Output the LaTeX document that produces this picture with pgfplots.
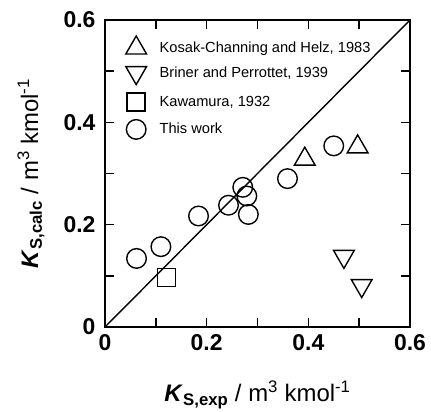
\documentclass[border=0pt]{standalone}
\usepackage{pgfplots}
\pgfplotsset{compat=1.18}
\usepackage{fontspec}
\setmainfont{Liberation Sans}
\pgfplotsset{myleg/.style={legend image code/.code={\path (0cm,0cm) (1.15cm,0cm); \draw[##1] plot coordinates {(0.4cm,0cm)};}}}
\begin{document}
\begin{tikzpicture}
\begin{axis}[
  scale only axis,
  width=305bp, height=307bp,
  xmin=0, xmax=0.6, ymin=0, ymax=0.6,
  axis line style={line width=1.6pt},
  xtick={0,0.2,0.4,0.6}, ytick={0,0.2,0.4,0.6},
  xticklabels={0,0.2,0.4,0.6}, yticklabels={0,0.2,0.4,0.6},
  minor xtick={0.1,0.3,0.5}, minor ytick={0.1,0.3,0.5},
  tick align=inside,
  major tick length=9bp, minor tick length=9bp,
  every tick/.style={line width=1.6pt, black},
  ticklabel style={font=\fontsize{23}{25}\selectfont\bfseries},
  xticklabel style={yshift=-4bp},
  yticklabel style={xshift=-6bp},
  xlabel={\textbf{\textit{K}}\textsubscript{\textbf{S,exp}} / m\textsuperscript{3} kmol\textsuperscript{-1}},
  ylabel={\textbf{\textit{K}}\textsubscript{\textbf{S,calc}} / m\textsuperscript{3} kmol\textsuperscript{-1}},
  every axis x label/.style={at={(axis description cs:0.5,-0.22)}, anchor=center, font=\fontsize{24}{26}\selectfont},
  every axis y label/.style={at={(axis description cs:-0.243,0.5)}, anchor=center, rotate=90, font=\fontsize{24}{26}\selectfont},
  legend style={draw=none, fill=none, at={(0.054,0.955)}, anchor=north west,
    font=\fontsize{14.7}{17}\selectfont, row sep=8.5bp},
  legend cell align=left,
  clip=false,
]
\addplot[no marks, line width=1.4pt, forget plot] coordinates {(0,0) (0.6,0.6)};
\addplot[only marks, myleg, mark=triangle, mark size=12bp, mark options={line width=1.4pt, fill=white}]
  coordinates {(0.393,0.328) (0.497,0.352)};
\addlegendentry{Kosak-Channing and Helz, 1983}
\addplot[only marks, myleg, mark=triangle, mark size=12bp, mark options={rotate=180, line width=1.4pt, fill=white}]
  coordinates {(0.470,0.138) (0.505,0.081)};
\addlegendentry{Briner and Perrottet, 1939}
\addplot[only marks, myleg, mark=square, mark size=9bp, mark options={line width=1.4pt, fill=white}]
  coordinates {(0.121,0.097)};
\addlegendentry{Kawamura, 1932}
\addplot[only marks, myleg, mark=o, mark size=9.8bp, mark options={line width=1.4pt}]
  coordinates {(0.062,0.134) (0.110,0.157) (0.184,0.217) (0.243,0.238) (0.271,0.273) (0.279,0.256) (0.282,0.220) (0.359,0.290) (0.450,0.354)};
\addlegendentry{This work}
\end{axis}
\path (current axis.south west) ++(-105bp,-84bp) rectangle ++(431bp,411bp);
\end{tikzpicture}
\end{document}
